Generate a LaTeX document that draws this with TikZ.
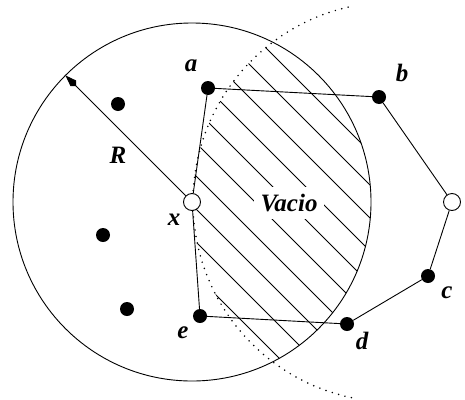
\documentclass[tikz,border=0pt]{standalone}
\usepackage{fontspec}
\setmainfont{Liberation Serif}
\usetikzlibrary{arrows.meta}
\begin{document}
\begin{tikzpicture}[x=1pt,y=-1pt,
  blk/.style={circle,fill=black,minimum size=14pt,inner sep=0pt},
  wht/.style={circle,draw=black,fill=white,line width=0.9pt,minimum size=17pt,inner sep=0pt},
  lbl/.style={font=\fontsize{25}{25}\selectfont\bfseries\itshape,inner sep=0pt},
  edge/.style={line width=0.9pt},
  hatch/.style={line width=0.8pt},
  dotarc/.style={line width=1.7pt,line cap=round,dash pattern=on 0pt off 6.6pt}]
\useasboundingbox (0,0) rectangle (465,399);
% positions
\coordinate (x0) at (192,202);
\coordinate (v0) at (393,202);
\coordinate (Rend) at (65.4,75.4);
% big circle
\draw[edge] (x0) circle[radius=179];
% dotted arc
\draw[dotarc] (v0) ++(102:200) arc[start angle=102, end angle=258, radius=200];
% hatching
\begin{scope}
\clip (x0) circle[radius=179];
\clip (v0) circle[radius=200];
\foreach \c in {218,185,...,-79} {
  \draw[hatch] (\c,0) -- ({\c+400},400);
}
\end{scope}
\node[lbl,fill=white,inner sep=7pt] (vacio) at (289,203) {Vacio};
% points
\node[blk] (a) at (208,88) {};
\node[blk] (b) at (379,97) {};
\node[blk] (c) at (428,276) {};
\node[blk] (d) at (347,324) {};
\node[blk] (e) at (200,316) {};
\node[blk] (p1) at (118,104) {};
\node[blk] (p2) at (103,235) {};
\node[blk] (p3) at (127,309) {};
\node[wht] (x) at (x0) {};
\node[wht] (w) at (452,202) {};
% polygon
\draw[edge] (a) -- (b) -- (w) -- (c) -- (d) -- (e) -- (x) -- (a);
% radius
\draw[edge,-{Kite[length=15pt,width=8pt]}] (x) -- (Rend);
% labels
\node[lbl] (la) at (191,66) {a};
\node[lbl] (lb) at (402,73) {b};
\node[lbl] (lc) at (447,293) {c};
\node[lbl] (ld) at (362,341) {d};
\node[lbl] (le) at (183,333) {e};
\node[lbl] (lx) at (174,220) {x};
\node[lbl] (lR) at (118,155) {R};
\end{tikzpicture}
\end{document}
